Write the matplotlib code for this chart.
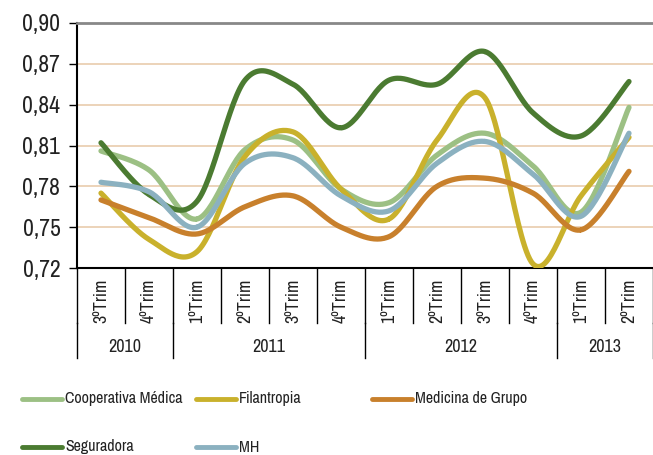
import numpy as np
import matplotlib
matplotlib.use("Agg")
import matplotlib.pyplot as plt
from matplotlib.lines import Line2D

plt.rcParams['font.family'] = ['Archivo Narrow', 'DejaVu Sans']

# quarters and years
quarters = ["3ºTrim", "4ºTrim", "1ºTrim", "2ºTrim", "3ºTrim", "4ºTrim",
            "1ºTrim", "2ºTrim", "3ºTrim", "4ºTrim", "1ºTrim", "2ºTrim"]
years = ["2010", "2011", "2012", "2013"]
year_sizes = [2, 4, 4, 2]

# values
cooperativa = [0.806, 0.792, 0.756, 0.807, 0.814, 0.778, 0.768, 0.803, 0.819, 0.795, 0.761, 0.838]
filantropia = [0.775, 0.741, 0.732, 0.802, 0.820, 0.778, 0.756, 0.814, 0.845, 0.723, 0.773, 0.816]
medicina = [0.770, 0.757, 0.745, 0.765, 0.773, 0.750, 0.743, 0.780, 0.786, 0.775, 0.748, 0.791]
seguradora = [0.812, 0.774, 0.769, 0.858, 0.855, 0.823, 0.858, 0.855, 0.879, 0.834, 0.817, 0.857]
mh = [0.783, 0.776, 0.750, 0.797, 0.801, 0.773, 0.762, 0.797, 0.813, 0.789, 0.758, 0.819]

series = [
    ("Cooperativa Médica", cooperativa, "#9cc084"),
    ("Filantropia", filantropia, "#c9b12c"),
    ("Medicina de Grupo", medicina, "#c8802c"),
    ("Seguradora", seguradora, "#4b7b31"),
    ("MH", mh, "#8bb1c0"),
]


def smooth(xs, ys, n=30):
    # catmull-rom curve through the points, like Excel's smoothed line
    px = np.r_[xs[0], xs, xs[-1]].astype(float)
    py = np.r_[ys[0], ys, ys[-1]].astype(float)
    ox, oy = [], []
    t = np.linspace(0, 1, n)
    for i in range(1, len(px) - 2):
        for p, o in ((px, ox), (py, oy)):
            p0, p1, p2, p3 = p[i - 1], p[i], p[i + 1], p[i + 2]
            o.extend(0.5 * ((2 * p1) + (-p0 + p2) * t + (2 * p0 - 5 * p1 + 4 * p2 - p3) * t ** 2
                            + (-p0 + 3 * p1 - 3 * p2 + p3) * t ** 3))
    return np.array(ox), np.array(oy)


fig = plt.figure(figsize=(6.53, 4.55), dpi=100)
ax = fig.add_axes([77 / 653, 1 - 268 / 455, 1 - 77 / 653, 245 / 455])

x = np.arange(len(quarters))
for name, vals, col in series:
    sx, sy = smooth(x, vals)
    ax.plot(sx, sy, color=col, lw=3.8, solid_capstyle='round', zorder=3)

ax.set_xlim(-0.5, len(quarters) - 0.5)
ax.set_ylim(0.72, 0.90)
yt = [0.72, 0.75, 0.78, 0.81, 0.84, 0.87, 0.90]
ax.set_yticks(yt)
ax.set_yticklabels([f"{v:.2f}".replace(".", ",") for v in yt], fontsize=17, color="#222222")
ax.tick_params(axis='y', length=6, width=1, pad=6)
for v in yt[1:-1]:
    ax.axhline(v, color="#e7c8a6", lw=1.1, zorder=1)

ax.spines['right'].set_visible(False)
ax.spines['top'].set_color("#888888")
ax.spines['top'].set_linewidth(2)
ax.spines['left'].set_linewidth(1.5)
ax.spines['bottom'].set_linewidth(1.5)

ax.set_xticks(x)
ax.set_xticklabels(quarters, rotation=90, fontsize=13, color="#222222")
ax.tick_params(axis='x', length=0, pad=8)

trans = ax.get_xaxis_transform()
for b in np.arange(-0.5, len(quarters), 1.0):
    ax.plot([b, b], [0, -0.224], color="black", lw=1, transform=trans, clip_on=False)

start = -0.5
for yr, sz in zip(years, year_sizes):
    ax.plot([start, start], [-0.224, -0.367], color="black", lw=1, transform=trans, clip_on=False)
    ax.text(start + sz / 2, -0.322, yr, ha='center', va='center', fontsize=13,
            color="#222222", transform=trans)
    start += sz
ax.plot([start, start], [-0.224, -0.367], color="black", lw=1, transform=trans, clip_on=False)

# legend drawn by hand
leg_pos = [(22, 399), (196, 399), (372, 399), (22, 447), (196, 447)]
for (name, vals, col), (lx, ly) in zip(series, leg_pos):
    fy = 1 - ly / 455
    fig.add_artist(Line2D([lx / 653, (lx + 40) / 653], [fy, fy], color=col, lw=3.5,
                          solid_capstyle='round', transform=fig.transFigure))
    fig.text((lx + 43) / 653, fy, name, fontsize=11.5, va='center', ha='left', color="#222222")

fig.savefig("out.png", dpi=100)
